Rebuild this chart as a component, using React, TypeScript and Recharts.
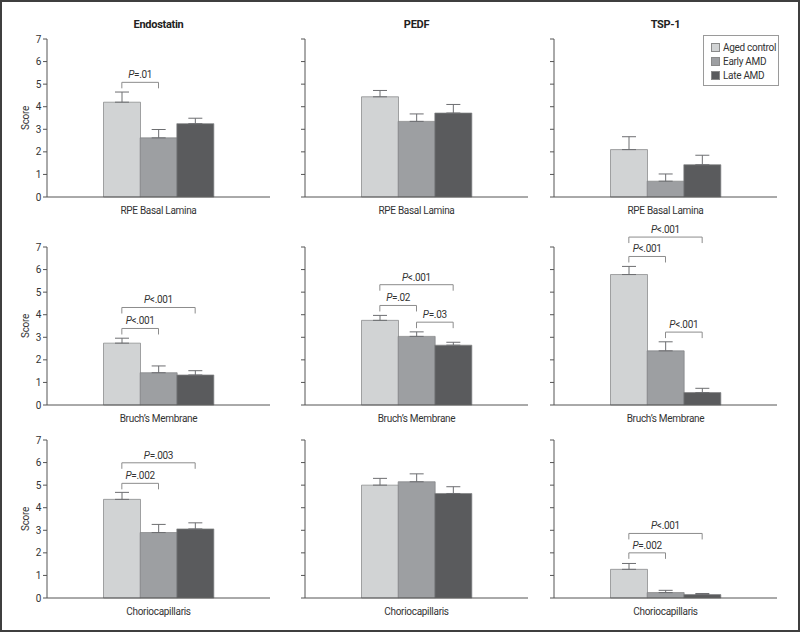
import { Bar, BarChart, Cell, ErrorBar, Legend, ReferenceLine, XAxis, YAxis } from "recharts";

const groups = ["Aged control", "Early AMD", "Late AMD"];
const colors = ["#d1d3d4", "#9d9fa2", "#5a5b5d"];
const proteins = ["Endostatin", "PEDF", "TSP-1"];
const layers = ["RPE Basal Lamina", "Bruch\u2019s Membrane", "Choriocapillaris"];
const yTicks = [0, 1, 2, 3, 4, 5, 6, 7];

// mean score per group, one row per protein (Endostatin, PEDF, TSP-1)
const rpeMeans = [
  [4.2, 2.62, 3.25],
  [4.44, 3.35, 3.72],
  [2.1, 0.7, 1.43],
];
const rpeErrors = [
  [0.45, 0.37, 0.24],
  [0.28, 0.33, 0.38],
  [0.57, 0.32, 0.42],
];
const bruchMeans = [
  [2.74, 1.43, 1.33],
  [3.75, 3.04, 2.65],
  [5.78, 2.4, 0.55],
];
const bruchErrors = [
  [0.22, 0.3, 0.19],
  [0.22, 0.2, 0.13],
  [0.36, 0.4, 0.19],
];
const chorioMeans = [
  [4.37, 2.9, 3.06],
  [5.0, 5.15, 4.63],
  [1.27, 0.24, 0.15],
];
const chorioErrors = [
  [0.31, 0.36, 0.27],
  [0.3, 0.35, 0.3],
  [0.26, 0.1, 0.05],
];

// significance brackets: [from group, to group, height, text after italic P]
type Bracket = [number, number, number, string];
const rpeBrackets: Bracket[][] = [[[0, 1, 5.08, "=.01"]], [], []];
const bruchBrackets: Bracket[][] = [
  [
    [0, 1, 3.39, "<.001"],
    [0, 2, 4.32, "<.001"],
  ],
  [
    [0, 2, 5.33, "<.001"],
    [0, 1, 4.41, "=.02"],
    [1, 2, 3.67, "=.03"],
  ],
  [
    [0, 2, 7.44, "<.001"],
    [0, 1, 6.58, "<.001"],
    [1, 2, 3.23, "<.001"],
  ],
];
const chorioBrackets: Bracket[][] = [
  [
    [0, 1, 5.08, "=.002"],
    [0, 2, 5.99, "=.003"],
  ],
  [],
  [
    [0, 1, 2.0, "=.002"],
    [0, 2, 2.86, "<.001"],
  ],
];

const rowMeans = [rpeMeans, bruchMeans, chorioMeans];
const rowErrors = [rpeErrors, bruchErrors, chorioErrors];
const rowBrackets = [rpeBrackets, bruchBrackets, chorioBrackets];

const axisX = [47, 305, 554];
const plotTop = [39, 247, 440];
const PLOT_W = 223;
const PLOT_H = 158;
const TOP = 30;
const AXIS_W = 45;
const XAXIS_H = 20;
const FONT = "Roboto, 'Liberation Sans', Arial, sans-serif";
const TEXT = "#333";
const AXIS = "#555";

function bracketShape(text: string) {
  return (p: any) => {
    const { x1, y1, x2 } = p;
    return (
      <g>
        <path
          d={`M${x1},${y1 + 6}V${y1}H${x2}V${y1 + 6}`}
          fill="none"
          stroke="#8c8c8c"
          strokeWidth={1}
        />
        <text x={(x1 + x2) / 2} y={y1 - 4} textAnchor="middle" fontSize={10} fill={TEXT}>
          <tspan fontStyle="italic">P</tspan>
          {text}
        </text>
      </g>
    );
  };
}

function LegendBox() {
  return (
    <div
      style={{
        width: 76,
        height: 51,
        boxSizing: "border-box",
        border: "1px solid #9a9a9a",
        background: "#fff",
        padding: "4px 0 0 7px",
        fontSize: 10,
        color: TEXT,
        fontFamily: FONT,
        letterSpacing: "-0.3px",
        whiteSpace: "nowrap",
      }}
    >
      {groups.map((g, i) => (
        <div key={g} style={{ display: "flex", alignItems: "center", height: 14.3 }}>
          <span
            style={{
              width: 7,
              height: 7,
              flex: "none",
              background: colors[i],
              border: "1px solid #8a8a8a",
              marginRight: 3,
            }}
          />
          {g}
        </div>
      ))}
    </div>
  );
}

function Panel({ row, col }: { row: number; col: number }) {
  const means = rowMeans[row][col];
  const errs = rowErrors[row][col];
  const data = groups.map((g, i) => ({ group: g, value: means[i], err: [0, errs[i]] }));
  const pad = (PLOT_W - 110) / 2;
  return (
    <div style={{ position: "absolute", left: axisX[col] - AXIS_W, top: plotTop[row] - TOP }}>
      <BarChart
        width={AXIS_W + PLOT_W + 2}
        height={TOP + PLOT_H + XAXIS_H}
        data={data}
        margin={{ top: TOP, right: 2, bottom: 0, left: 0 }}
        barCategoryGap={0}
        barGap={0}
      >
        <XAxis
          dataKey="group"
          type="category"
          tick={false}
          tickLine={false}
          axisLine={{ stroke: AXIS }}
          height={XAXIS_H}
          padding={{ left: pad, right: pad }}
          label={{ value: layers[row], position: "insideBottom", offset: 3, fill: TEXT, fontSize: 10 }}
        />
        <YAxis
          type="number"
          domain={[0, 7]}
          ticks={yTicks}
          width={AXIS_W}
          tickSize={4}
          axisLine={{ stroke: AXIS }}
          tickLine={{ stroke: AXIS }}
          tick={{ fill: TEXT, fontSize: 10 }}
          tickFormatter={(v) => (col === 0 ? String(v) : "")}
          label={
            col === 0
              ? {
                  value: "Score",
                  angle: -90,
                  position: "insideLeft",
                  offset: 23,
                  fill: TEXT,
                  fontSize: 10,
                  style: { textAnchor: "middle" },
                }
              : undefined
          }
        />
        <Bar dataKey="value" isAnimationActive={false} stroke="#808183" strokeWidth={0.7}>
          {data.map((d, i) => (
            <Cell key={d.group} fill={colors[i]} />
          ))}
          <ErrorBar dataKey="err" direction="y" width={7} stroke="#6d6e71" strokeWidth={1} />
        </Bar>
        {rowBrackets[row][col].map(([a, b, y, t], k) => (
          <ReferenceLine
            key={k}
            segment={[
              { x: groups[a], y },
              { x: groups[b], y },
            ]}
            ifOverflow="visible"
            shape={bracketShape(t)}
          />
        ))}
        {row === 0 && col === 2 && (
          <Legend
            layout="vertical"
            align="center"
            verticalAlign="middle"
            content={() => <LegendBox />}
            wrapperStyle={{ left: 194, top: 26, width: 76, height: 51 }}
          />
        )}
      </BarChart>
    </div>
  );
}

export default function App() {
  return (
    <div
      style={{
        position: "absolute",
        left: 0,
        top: 0,
        width: 800,
        height: 632,
        background: "#fff",
        fontFamily: FONT,
        letterSpacing: "-0.3px",
        overflow: "hidden",
      }}
    >
      {proteins.map((p, c) => (
        <div
          key={p}
          style={{
            position: "absolute",
            left: axisX[c],
            top: 18,
            width: PLOT_W,
            textAlign: "center",
            fontWeight: "bold",
            fontSize: 11,
            lineHeight: "14px",
            color: "#222",
          }}
        >
          {p}
        </div>
      ))}
      {[0, 1, 2].map((r) => [0, 1, 2].map((c) => <Panel key={`${r}-${c}`} row={r} col={c} />))}
      <div
        style={{
          position: "absolute",
          left: 0,
          top: 0,
          width: 800,
          height: 632,
          boxSizing: "border-box",
          border: "2px solid #3f3f3f",
          pointerEvents: "none",
        }}
      />
    </div>
  );
}
